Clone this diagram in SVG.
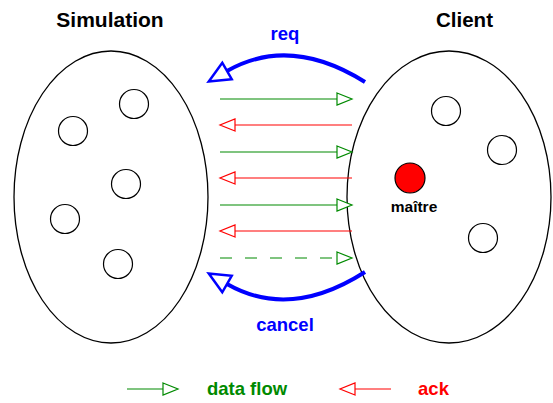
<svg xmlns="http://www.w3.org/2000/svg" width="553" height="403" viewBox="0 0 553 403">
<style>
.set{fill:none;stroke:#000;stroke-width:1.3}
.obj{fill:#fff;stroke:#000;stroke-width:1.2}
.t{font-family:"Liberation Sans",Arial,sans-serif;font-weight:bold;text-anchor:middle}
.g{stroke:#008a00;stroke-width:1.2;fill:none}
.r{stroke:#ff0000;stroke-width:1.2;fill:none}
.b{stroke:#0000ff;stroke-width:4;fill:none}
</style>
<defs>
<marker id="mg" markerUnits="userSpaceOnUse" markerWidth="18" markerHeight="16" viewBox="-1 -8 18 16" refX="0" refY="0" orient="auto">
<path d="M0,-6 L15,0 L0,6 Z" fill="#fff" stroke="#008a00" stroke-width="1.2"/>
</marker>
<marker id="mr" markerUnits="userSpaceOnUse" markerWidth="18" markerHeight="16" viewBox="-1 -8 18 16" refX="0" refY="0" orient="auto">
<path d="M0,-6 L15,0 L0,6 Z" fill="#fff" stroke="#ff0000" stroke-width="1.2"/>
</marker>
<marker id="mb" markerUnits="userSpaceOnUse" markerWidth="28" markerHeight="26" viewBox="-2 -13 28 26" refX="0" refY="0" orient="auto">
<path d="M0,-9.5 L21,0 L0,9.5 Z" fill="#fff" stroke="#0000ff" stroke-width="2.5"/>
</marker>
</defs>
<g id="simulation">
<ellipse class="set" cx="111" cy="197" rx="97" ry="146"/>
<circle class="obj" cx="73" cy="131" r="14.5"/>
<circle class="obj" cx="134" cy="104" r="14.5"/>
<circle class="obj" cx="126" cy="184" r="14.5"/>
<circle class="obj" cx="65" cy="219" r="14.5"/>
<circle class="obj" cx="118" cy="264" r="14.5"/>
<text class="t" x="110" y="27" font-size="21">Simulation</text>
</g>
<g id="client">
<ellipse class="set" cx="449" cy="197" rx="102" ry="146"/>
<circle class="obj" cx="446" cy="111" r="14.5"/>
<circle class="obj" cx="502" cy="150" r="14.5"/>
<circle class="obj" cx="483" cy="238" r="14.5"/>
<text class="t" x="464.5" y="27" font-size="20.5">Client</text>
</g>
<g id="maitre">
<circle cx="410" cy="178" r="15" fill="#ff0000" stroke="#000" stroke-width="1.2"/>
<text class="t" x="414" y="212" font-size="15.5">maître</text>
</g>
<g id="connectors">
<line class="g" x1="220" y1="99" x2="337" y2="99" marker-end="url(#mg)"/>
<line class="r" x1="352" y1="125" x2="235" y2="125" marker-end="url(#mr)"/>
<line class="g" x1="220" y1="152" x2="337" y2="152" marker-end="url(#mg)"/>
<line class="r" x1="352" y1="178" x2="235" y2="178" marker-end="url(#mr)"/>
<line class="g" x1="220" y1="205" x2="337" y2="205" marker-end="url(#mg)"/>
<line class="r" x1="352" y1="231" x2="235" y2="231" marker-end="url(#mr)"/>
<line class="g" x1="220" y1="258" x2="337" y2="258" stroke-dasharray="12 13" marker-end="url(#mg)"/>
<path class="b" d="M365,82 Q290,35 227,71" marker-end="url(#mb)"/>
<path class="b" d="M365,272 Q290,320 227,284" marker-end="url(#mb)"/>
<text class="t" x="285" y="40" font-size="18.5" fill="#0000ff">req</text>
<text class="t" x="285" y="331" font-size="18.5" fill="#0000ff">cancel</text>
</g>
<g id="legend">
<line class="g" x1="127" y1="389" x2="163" y2="389" marker-end="url(#mg)"/>
<text class="t" x="247" y="395" font-size="18.5" fill="#008a00">data flow</text>
<line class="r" x1="391" y1="389" x2="355" y2="389" marker-end="url(#mr)"/>
<text class="t" x="433.5" y="395" font-size="18.5" fill="#ff0000">ack</text>
</g>
</svg>
